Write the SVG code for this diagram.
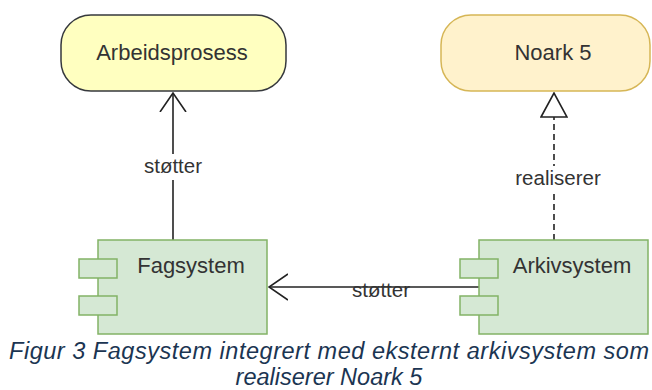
<svg xmlns="http://www.w3.org/2000/svg" width="652" height="390" viewBox="0 0 652 390">
<defs>
<style>
.t{font-family:"Liberation Sans",Arial,sans-serif;font-size:22px;fill:#333333;text-anchor:middle}
.l{font-family:"Liberation Sans",Arial,sans-serif;font-size:20.5px;fill:#333333;text-anchor:middle}
.cap{font-family:"Liberation Sans",Arial,sans-serif;font-size:23.5px;font-style:italic;fill:#1b3552;text-anchor:middle}
.comp{fill:#d5e8d4;stroke:#82b366;stroke-width:1.5}
.edge{fill:none;stroke:#222222;stroke-width:1.6}
.bg{fill:#ffffff}
</style>
<marker id="open" viewBox="0 0 20 30" refX="19" refY="15" markerWidth="20" markerHeight="30" markerUnits="userSpaceOnUse" orient="auto">
<path d="M0,2 L19,15 L0,28" fill="none" stroke="#222222" stroke-width="1.6"/>
</marker>
<marker id="tri" viewBox="0 0 26 28" refX="25" refY="14" markerWidth="26" markerHeight="28" markerUnits="userSpaceOnUse" orient="auto">
<path d="M1,1 L25,14 L1,27 Z" fill="#ffffff" stroke="#222222" stroke-width="1.6"/>
</marker>
</defs>
<rect width="652" height="390" fill="#ffffff"/>
<g id="connectors">
<path class="edge" d="M173,240 L173,93" marker-end="url(#open)"/>
<path class="edge" d="M554,240 L554,93" stroke-dasharray="6,4" marker-end="url(#tri)"/>
<path class="edge" d="M490,287 L269,287" marker-end="url(#open)"/>
<rect class="bg" x="142" y="154" width="62" height="26"/>
<text class="l" x="173" y="173">støtter</text>
<rect class="bg" x="513" y="166" width="90" height="26"/>
<text class="l" x="558" y="185">realiserer</text>
<text class="l" x="381" y="297">støtter</text>
</g>
<g id="arbeidsprosess">
<rect x="61" y="15" width="225" height="76" rx="30" ry="30" fill="#ffffc0" stroke="#36393d" stroke-width="1.5"/>
<text class="t" x="172" y="60">Arbeidsprosess</text>
</g>
<g id="noark5">
<rect x="441" y="15" width="209" height="76" rx="30" ry="30" fill="#fff2cc" stroke="#d6b656" stroke-width="1.5"/>
<text class="t" x="553" y="60">Noark 5</text>
</g>
<g id="fagsystem">
<rect class="comp" x="98" y="240" width="169" height="94"/>
<rect class="comp" x="79" y="259" width="38" height="19"/>
<rect class="comp" x="79" y="296" width="38" height="19"/>
<text class="t" x="191" y="273">Fagsystem</text>
</g>
<g id="arkivsystem">
<rect class="comp" x="479" y="240" width="169" height="94"/>
<rect class="comp" x="460" y="259" width="38" height="19"/>
<rect class="comp" x="460" y="296" width="38" height="19"/>
<text class="t" x="572" y="273">Arkivsystem</text>
</g>
<g id="caption">
<text class="cap" x="329" y="359" textLength="640" lengthAdjust="spacing">Figur 3 Fagsystem integrert med eksternt arkivsystem som</text>
<text class="cap" x="329" y="385">realiserer Noark 5</text>
</g>
</svg>
